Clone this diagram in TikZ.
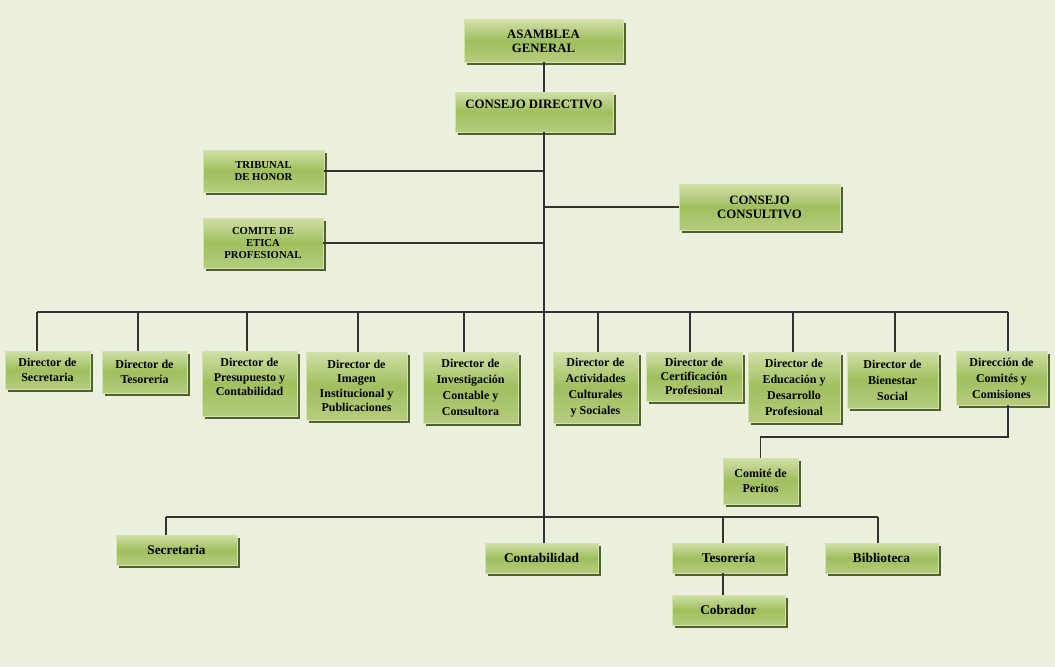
\documentclass[tikz,border=0pt]{standalone}
\usepackage{fontspec}
\setmainfont{Liberation Serif}
\usetikzlibrary{shadows}
\definecolor{bgpage}{HTML}{EBF1DE}
\definecolor{boxTop}{HTML}{CFE0A6}
\definecolor{boxMid}{HTML}{A0BF5E}
\definecolor{boxBot}{HTML}{B5CD7E}
\definecolor{boxEdge}{HTML}{D3E2B0}
\definecolor{boxShadow}{HTML}{4F6228}
\definecolor{linkgray}{HTML}{333333}
\tikzset{
  orgbox/.style={draw=boxEdge, line width=0.6pt, top color=boxTop, bottom color=boxBot,
    middle color=boxMid, align=center, inner sep=2pt,
    drop shadow={shadow xshift=2.2pt, shadow yshift=-2.2pt, fill=boxShadow, opacity=1}},
  sz/.style 2 args={minimum width=#1*0.75pt, minimum height=#2*0.75pt},
  capsbox/.style={orgbox, font=\bfseries\fontsize{9.6}{10.5}\selectfont},
  honorbox/.style={orgbox, font=\bfseries\fontsize{8}{9.3}\selectfont},
  dirbox/.style={orgbox, font=\bfseries\fontsize{9}{10.7}\selectfont},
  dirwide/.style={orgbox, font=\bfseries\fontsize{9}{12}\selectfont},
  unitbox/.style={orgbox, font=\bfseries\fontsize{10}{12}\selectfont},
  link/.style={draw=linkgray, line width=0.8pt}
}
\begin{document}
\begin{tikzpicture}[x=0.75pt, y=-0.75pt]
  \fill[bgpage] (0,0) rectangle (1055,667);
  \useasboundingbox (0,0) rectangle (1055,667);

  % upper levels
  \node[capsbox, sz={159}{42}] (asamblea) at (543.5,41) {ASAMBLEA\\GENERAL};
  \node[capsbox, sz={158}{40}, text depth=12pt] (directivo) at (534,112) {CONSEJO DIRECTIVO};
  \node[honorbox, sz={121}{42}] (tribunal) at (263.5,171) {TRIBUNAL\\DE HONOR};
  \node[honorbox, sz={120}{50}] (etica) at (263,243) {COMITE DE\\ETICA\\PROFESIONAL};
  \node[capsbox, sz={161}{46}] (consultivo) at (759.5,207) {CONSEJO\\CONSULTIVO};

  % directors
  \node[dirbox, sz={85}{38}] (dsec) at (47.5,370) {Director de\\Secretaria};
  \node[dirbox, sz={85}{42}] (dtes) at (144.5,372) {Director de\\Tesorería};
  \node[dirbox, sz={95}{65}, text depth=10pt] (dpre) at (249.5,383.5) {Director de\\Presupuesto y\\Contabilidad};
  \node[dirbox, sz={101}{68}] (dima) at (356.5,386) {Director de\\Imagen\\Institucional y\\Publicaciones};
  \node[dirwide, sz={95}{71}] (dinv) at (470.5,387.5) {Director de\\Investigación\\Contable y\\Consultora};
  \node[dirwide, sz={85}{71}] (dact) at (595.5,387.5) {Director de\\Actividades\\Culturales\\y Sociales};
  \node[dirbox, sz={96}{49}] (dcer) at (694,376.5) {Director de\\Certificación\\Profesional};
  \node[dirwide, sz={92}{70}] (dedu) at (794,387) {Director de\\Educación y\\Desarrollo\\Profesional};
  \node[dirwide, sz={91}{56}] (dbie) at (892.5,380) {Director de\\Bienestar\\Social};
  \node[dirwide, sz={91}{54}] (dcom) at (1001.5,378) {Dirección de\\Comités y\\Comisiones};
  \node[dirbox, sz={75}{46}] (peritos) at (760.5,481) {Comité de\\Peritos};

  % units
  \node[unitbox, sz={121}{30}] (secretaria) at (176.5,550) {Secretaria};
  \node[unitbox, sz={113}{30}] (contab) at (541.5,558) {Contabilidad};
  \node[unitbox, sz={113}{30}] (tesoreria) at (728.5,558) {Tesorería};
  \node[unitbox, sz={113}{30}] (biblio) at (881.5,558) {Biblioteca};
  \node[unitbox, sz={113}{30}] (cobrador) at (728.5,610) {Cobrador};

  % bus points
  \coordinate (spine) at (544,312);
  \coordinate (b1) at (37,312);
  \coordinate (b2) at (138,312);
  \coordinate (b3) at (247,312);
  \coordinate (b4) at (358,312);
  \coordinate (b5) at (464,312);
  \coordinate (b6) at (598,312);
  \coordinate (b7) at (690,312);
  \coordinate (b8) at (793,312);
  \coordinate (b9) at (895,312);
  \coordinate (b10) at (1008,312);
  \coordinate (k1) at (1008,437);
  \coordinate (u1) at (166,517);
  \coordinate (u3) at (723,517);
  \coordinate (u4) at (878,517);

  \draw[link] (asamblea.south -| spine) -- (directivo.north -| spine);
  \draw[link] (directivo.south -| spine) -- (contab.north -| spine);
  \draw[link] (tribunal.east) -- (tribunal.east -| spine);
  \draw[link] (etica.east) -- (etica.east -| spine);
  \draw[link] (consultivo.west -| spine) -- (consultivo.west);
  \draw[link] (b1) -- (b10);
  \foreach \b/\d in {b1/dsec, b2/dtes, b3/dpre, b4/dima, b5/dinv, b6/dact, b7/dcer, b8/dedu, b9/dbie, b10/dcom}
    \draw[link] (\b) -- (\b |- \d.north);
  \draw[link] (k1 |- dcom.south) -- (k1) -| (peritos.north);
  \draw[link] (u1) -- (u4);
  \draw[link] (u1) -- (u1 |- secretaria.north);
  \draw[link] (u3) -- (u3 |- tesoreria.north);
  \draw[link] (u4) -- (u4 |- biblio.north);
  \draw[link] (u3 |- tesoreria.south) -- (u3 |- cobrador.north);
\end{tikzpicture}
\end{document}
